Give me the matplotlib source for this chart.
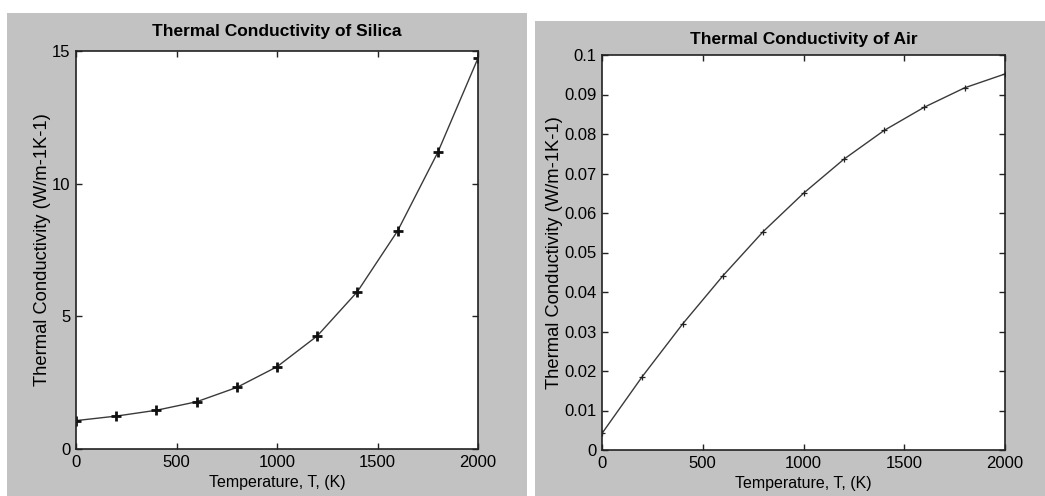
import matplotlib
matplotlib.use("Agg")
import matplotlib.pyplot as plt
from matplotlib.patches import Rectangle

# ---- data ----
temperature = [0, 200, 400, 600, 800, 1000, 1200, 1400, 1600, 1800, 2000]
k_silica = [1.07, 1.24, 1.46, 1.78, 2.32, 3.10, 4.26, 5.93, 8.22, 11.18, 14.73]
k_air = [0.0042, 0.0186, 0.0319, 0.0441, 0.0553, 0.0650, 0.0736, 0.0809, 0.0868, 0.0917, 0.0952]

x_ticks = [0, 500, 1000, 1500, 2000]
silica_yticks = [0, 5, 10, 15]
air_yticks = [0, 0.01, 0.02, 0.03, 0.04, 0.05, 0.06, 0.07, 0.08, 0.09, 0.1]
air_yticklabels = ["0", "0.01", "0.02", "0.03", "0.04", "0.05", "0.06", "0.07", "0.08", "0.09", "0.1"]

title_silica = "Thermal Conductivity of Silica"
title_air = "Thermal Conductivity of Air"
ylabel = "Thermal Conductivity (W/m-1K-1)"
xlabel = "Temperature, T, (K)"

font = "Liberation Sans"

W, H = 1045, 496
fig = plt.figure(figsize=(W / 100, H / 100), dpi=100, facecolor="white")

gray = "#c2c2c2"
def px_rect(x0, y0, x1, y1):
    return (x0 / W, 1 - y1 / H, (x1 - x0) / W, (y1 - y0) / H)

for (x0, y0, x1, y1) in [(7, 13, 527, 496), (535, 21, 1045, 496)]:
    l, b, w, h = px_rect(x0, y0, x1, y1)
    fig.patches.append(Rectangle((l, b), w, h, transform=fig.transFigure,
                                 facecolor=gray, edgecolor="none", zorder=-10))

ax1 = fig.add_axes(px_rect(76, 51, 478, 449))
ax2 = fig.add_axes(px_rect(602, 55, 1005, 450))

line_col = "#3a3a3a"
ax1.plot(temperature, k_silica, color=line_col, lw=1.0, marker="+",
         ms=7, mew=2.0, mec="#111111")
ax2.plot(temperature, k_air, color=line_col, lw=1.0, marker="+",
         ms=5, mew=0.9, mec="#222222")

tick_fs = 12
for ax in (ax1, ax2):
    ax.set_facecolor("white")
    ax.set_xlim(0, 2000)
    ax.set_xticks(x_ticks)
    ax.set_xticklabels([str(t) for t in x_ticks], fontfamily=font, fontsize=tick_fs)
    ax.tick_params(direction="in", top=True, right=True, length=4, width=1,
                   color="#222222", pad=4)
    for s in ax.spines.values():
        s.set_color("#222222")
        s.set_linewidth(1.2)
    ax.set_xlabel(xlabel, fontfamily=font, fontsize=11.5, labelpad=4)
    ax.set_ylabel(ylabel, fontfamily=font, fontsize=13.2, labelpad=1)

ax1.set_ylim(0, 15)
ax1.set_yticks(silica_yticks)
ax1.set_yticklabels([str(t) for t in silica_yticks], fontfamily=font, fontsize=tick_fs)
ax1.set_title(title_silica, fontfamily=font, fontweight="bold", fontsize=12.5, pad=11)

ax2.set_ylim(0, 0.1)
ax2.set_yticks(air_yticks)
ax2.set_yticklabels(air_yticklabels, fontfamily=font, fontsize=tick_fs)
ax2.set_title(title_air, fontfamily=font, fontweight="bold", fontsize=12.5, pad=8)

fig.savefig("out.png", dpi=100, facecolor="white")
